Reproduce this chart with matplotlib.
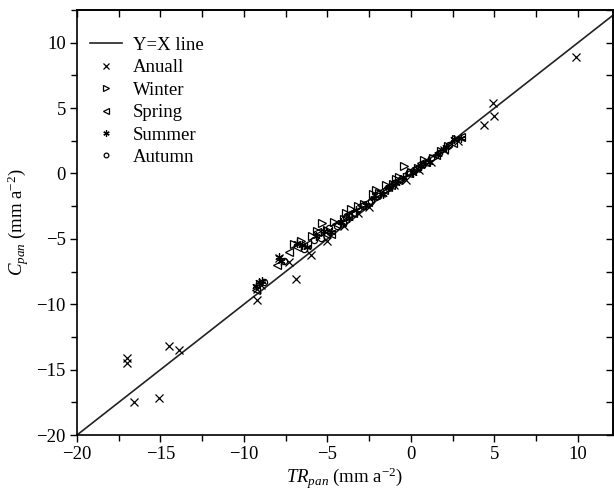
import matplotlib
matplotlib.use("Agg")
import matplotlib.pyplot as plt
from matplotlib.ticker import MultipleLocator

plt.rcParams['font.family'] = ['Liberation Serif', 'DejaVu Serif']
plt.rcParams['mathtext.fontset'] = 'custom'
plt.rcParams['mathtext.rm'] = 'Liberation Serif'
plt.rcParams['mathtext.it'] = 'Liberation Serif:italic'

# ---- data ----
annual_x = [-17.0, -17.0, -16.6, -15.1, -14.5, -13.9, -9.2, -9.2, -9.0, -7.9, -6.9, -7.3,
            -6.0, -5.0, -4.0, -3.2, -2.5, -1.8, -1.0, -0.3, 0.5, 1.2, 2.0, 2.8, 4.4, 4.9, 5.0, 9.9]
annual_y = [-14.5, -14.1, -17.5, -17.2, -13.2, -13.5, -9.7, -8.8, -8.5, -6.5, -8.1, -6.8,
            -6.2, -5.2, -4.0, -3.0, -2.6, -1.5, -0.9, -0.5, 0.3, 0.9, 1.8, 2.5, 3.7, 5.4, 4.4, 8.9]

winter_x = [-7.0, -6.6, -5.9, -5.3, -5.0, -4.6, -4.0, -3.6, -3.2, -2.8, -2.3, -1.9,
            -1.5, -1.1, -0.7, -0.4, 0.0, 0.4, 0.8, 1.3, 1.8, 2.2, 2.7, -5.6, -3.9, -2.1, -0.9]
winter_y = [-5.4, -5.2, -4.8, -3.8, -4.3, -3.7, -3.5, -2.7, -2.5, -2.3, -1.6, -1.5,
            -0.9, -0.8, -0.3, 0.6, 0.1, 0.4, 1.0, 1.2, 1.7, 2.1, 2.6, -4.4, -3.0, -1.3, -0.4]

spring_x = [-9.3, -8.0, -7.3, -6.8, -6.2, -5.6, -5.1, -4.5, -4.1, -3.5, -3.0, -2.6,
            -2.1, -1.6, -1.2, -0.8, -0.2, 0.3, 0.9, 1.5, 2.0, 2.5, 3.0, -4.8, -3.8, -1.4, 0.6]
spring_y = [-8.9, -7.0, -6.0, -5.6, -5.4, -4.5, -4.6, -3.9, -3.7, -3.0, -2.4, -2.2,
            -1.6, -1.3, -0.9, -0.5, 0.0, 0.4, 0.9, 1.4, 1.9, 2.3, 2.8, -4.6, -3.1, -1.0, 0.8]

summer_x = [-9.3, -9.1, -8.9, -7.9, -7.8, -6.8, -6.5, -6.2, -5.7, -5.2, -4.8, -4.2, -3.7,
            -3.3, -2.7, -2.2, -1.7, -1.3, -0.9, -0.5, 0.1, 0.6, 1.1, 1.6, 2.1, 2.6, 3.0]
summer_y = [-8.6, -8.3, -8.2, -6.4, -6.7, -5.3, -5.5, -5.6, -4.8, -4.4, -4.5, -3.7, -3.4,
            -2.8, -2.4, -1.9, -1.6, -1.0, -0.7, -0.3, 0.0, 0.6, 0.9, 1.5, 2.0, 2.6, 2.7]

autumn_x = [-8.8, -7.6, -6.4, -5.8, -5.4, -4.9, -4.4, -3.9, -3.4, -2.9, -2.4, -2.0,
            -1.4, -1.0, -0.6, -0.1, 0.2, 0.7, 1.2, 1.7, 2.3]
autumn_y = [-8.3, -6.7, -5.8, -5.1, -4.9, -4.2, -4.0, -3.3, -3.0, -2.5, -2.1, -1.7,
            -1.1, -0.7, -0.4, 0.1, 0.3, 0.7, 1.2, 1.6, 2.2]

line_xy = [-20, 12.5]
labels = ["Y=X line", "Anuall", "Winter", "Spring", "Summer", "Autumn"]

fig = plt.figure(figsize=(6.14, 4.91), dpi=100)
ax = fig.add_axes([77/614, 56/491, 536/614, 425/491])

ax.plot(line_xy, line_xy, color='#222222', lw=1.2, label=labels[0], zorder=1)
ms = 5.5
kw = dict(linestyle='none', color='black', markerfacecolor='none', markeredgewidth=0.9)
ax.plot(annual_x, annual_y, marker='x', markersize=ms + 0.5, label=labels[1], **kw)
ax.plot(winter_x, winter_y, marker='>', markersize=ms, label=labels[2], **kw)
ax.plot(spring_x, spring_y, marker='<', markersize=ms, label=labels[3], **kw)
ax.plot(summer_x, summer_y, marker=(6, 2, 0), markersize=ms + 0.5, label=labels[4], **kw)
ax.plot(autumn_x, autumn_y, marker='o', markersize=ms - 1, label=labels[5], **kw)

ax.set_xlim(-20, 12.1)
ax.set_ylim(-20, 12.5)
ax.xaxis.set_major_locator(MultipleLocator(5))
ax.yaxis.set_major_locator(MultipleLocator(5))
ax.xaxis.set_minor_locator(MultipleLocator(2.5))
ax.yaxis.set_minor_locator(MultipleLocator(2.5))

ax.tick_params(which='both', direction='out', length=5, width=1, labelsize=13.5, pad=3)
ax.tick_params(which='minor', length=4)
# top/right ticks inward
secx = ax.secondary_xaxis('top')
secx.xaxis.set_major_locator(MultipleLocator(2.5))
secx.tick_params(direction='in', length=5, width=1, labeltop=False)
secy = ax.secondary_yaxis('right')
secy.yaxis.set_major_locator(MultipleLocator(2.5))
secy.tick_params(direction='in', length=5, width=1, labelright=False)
for sp in ax.spines.values():
    sp.set_linewidth(1.2)
secx.spines['top'].set_linewidth(1.2)
secy.spines['right'].set_linewidth(1.2)

ax.set_xlabel(r'$TR_{pan}$ (mm a$^{-2}$)', fontsize=13.5, labelpad=2)
ax.set_ylabel(r'$C_{pan}$ (mm a$^{-2}$)', fontsize=13.5, labelpad=4)

leg = ax.legend(loc='upper left', frameon=False, fontsize=13.5, handlelength=1.7,
                handletextpad=0.6, labelspacing=0.28, borderaxespad=0.4, markerscale=0.75,
                bbox_to_anchor=(-0.004, 0.972))

fig.savefig('out.png', dpi=100)
